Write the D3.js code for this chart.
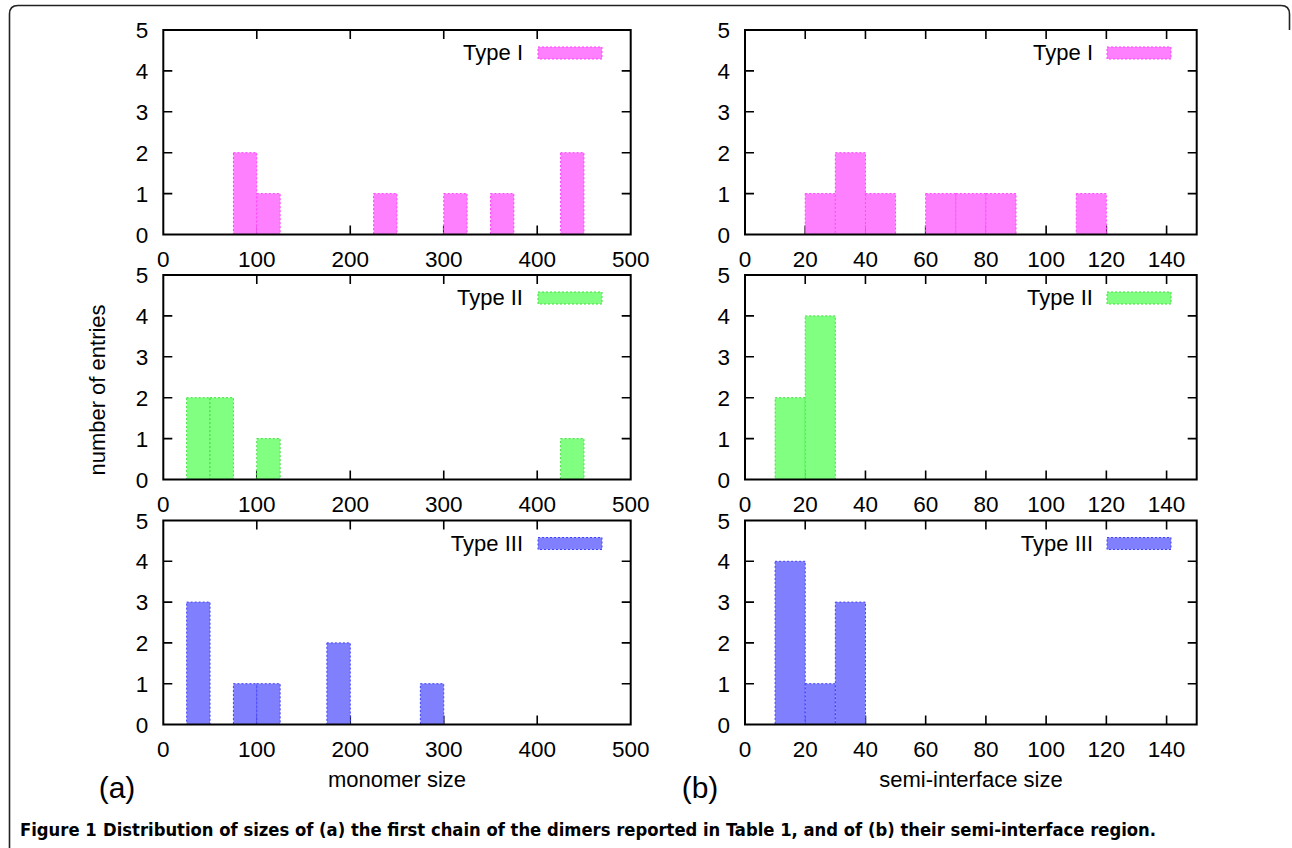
<!DOCTYPE html>
<html>
<head>
<meta charset="utf-8">
<script src="https://cdn.jsdelivr.net/npm/d3@7"></script>
<style>
  body { margin: 0; background: #fff; }
  svg text { font-family: "Liberation Sans", Arial, sans-serif; fill: #000; }
</style>
</head>
<body>
<script>
// histogram bins: left edge of each bin + count
const monomerBinWidth = 25;
const interfaceBinWidth = 10;

const typeIMonomerStart = [75, 100, 225, 300, 350, 425];
const typeIMonomerCount = [2, 1, 1, 1, 1, 2];
const typeIIMonomerStart = [25, 50, 100, 425];
const typeIIMonomerCount = [2, 2, 1, 1];
const typeIIIMonomerStart = [25, 75, 100, 175, 275];
const typeIIIMonomerCount = [3, 1, 1, 2, 1];

const typeIInterfaceStart = [20, 30, 40, 60, 70, 80, 110];
const typeIInterfaceCount = [1, 2, 1, 1, 1, 1, 1];
const typeIIInterfaceStart = [10, 20];
const typeIIInterfaceCount = [2, 4];
const typeIIIInterfaceStart = [10, 20, 30];
const typeIIIInterfaceCount = [4, 1, 3];

const typeNames = ["Type I", "Type II", "Type III"];
const monomerTicks = [0, 100, 200, 300, 400, 500];
const interfaceTicks = [0, 20, 40, 60, 80, 100, 120, 140];
const countTicks = [0, 1, 2, 3, 4, 5];

const fills = ["#ff80ff", "#80ff80", "#8080ff"];
const edges = ["#ff40ff", "#40e040", "#4040ff"];

const W = 1292, H = 848;

const svg = d3.select("body").append("svg")
  .attr("width", W)
  .attr("height", H);

// rounded figure frame (partly cut off in the scan)
svg.append("path")
  .attr("d", "M9.5,852 L9.5,14 Q9.5,5.5 18,5.5 L1281,5.5 Q1289.5,5.5 1289.5,14 L1289.5,30")
  .attr("fill", "none")
  .attr("stroke", "#222")
  .attr("stroke-width", 1.6);

const rows = [[30, 234.5], [275, 479.5], [520.5, 724.5]];
const cols = [
  { x0: 163.3, x1: 630.7, max: 500, ticks: monomerTicks, bw: monomerBinWidth,
    starts: [typeIMonomerStart, typeIIMonomerStart, typeIIIMonomerStart],
    counts: [typeIMonomerCount, typeIIMonomerCount, typeIIIMonomerCount],
    legendEnd: 523, swatch: 538 },
  { x0: 745, x1: 1196.7, max: 150, ticks: interfaceTicks, bw: interfaceBinWidth,
    starts: [typeIInterfaceStart, typeIIInterfaceStart, typeIIIInterfaceStart],
    counts: [typeIInterfaceCount, typeIIInterfaceCount, typeIIIInterfaceCount],
    legendEnd: 1093, swatch: 1107 }
];

const tickLen = 9;

cols.forEach(c => {
  rows.forEach((r, ri) => {
    const x = d3.scaleLinear().domain([0, c.max]).range([c.x0, c.x1]);
    const y = d3.scaleLinear().domain([0, 5]).range([r[1], r[0]]);
    const g = svg.append("g");

    // inward ticks on all four sides
    const inner = c.ticks.filter(t => t > 0 && t < c.max);
    g.selectAll(".xt").data(inner).join("path")
      .attr("d", d => `M${x(d)},${r[1]}v${-tickLen}M${x(d)},${r[0]}v${tickLen}`)
      .attr("stroke", "#000").attr("stroke-width", 1.6);
    g.selectAll(".yt").data(countTicks.filter(t => t > 0 && t < 5)).join("path")
      .attr("d", d => `M${c.x0},${y(d)}h${tickLen}M${c.x1},${y(d)}h${-tickLen}`)
      .attr("stroke", "#000").attr("stroke-width", 1.6);

    // bars
    const bins = c.starts[ri].map((s, i) => ({ s, n: c.counts[ri][i] }));
    g.selectAll("rect.bar").data(bins).join("rect")
      .attr("class", "bar")
      .attr("x", d => x(d.s))
      .attr("width", d => x(d.s + c.bw) - x(d.s))
      .attr("y", d => y(d.n))
      .attr("height", d => y(0) - y(d.n))
      .attr("fill", fills[ri])
      .attr("stroke", edges[ri])
      .attr("stroke-width", 1)
      .attr("stroke-dasharray", "2,2");

    // frame
    g.append("rect")
      .attr("x", c.x0).attr("y", r[0])
      .attr("width", c.x1 - c.x0).attr("height", r[1] - r[0])
      .attr("fill", "none").attr("stroke", "#000").attr("stroke-width", 2);

    // tick labels
    g.selectAll(".xl").data(c.ticks).join("text")
      .attr("x", d => x(d))
      .attr("y", r[1] + 32)
      .attr("text-anchor", "middle")
      .attr("font-size", 22.5)
      .text(d => d);
    g.selectAll(".yl").data(countTicks).join("text")
      .attr("x", c.x0 - 15)
      .attr("y", d => y(d) + 8)
      .attr("text-anchor", "end")
      .attr("font-size", 22.5)
      .text(d => d);

    // legend
    const ly = r[0] + 23;
    g.append("text")
      .attr("x", c.legendEnd)
      .attr("y", ly + 7)
      .attr("text-anchor", "end")
      .attr("font-size", 22)
      .text(typeNames[ri]);
    g.append("rect")
      .attr("x", c.swatch).attr("y", ly - 6)
      .attr("width", 64).attr("height", 12)
      .attr("fill", fills[ri])
      .attr("stroke", edges[ri])
      .attr("stroke-width", 1)
      .attr("stroke-dasharray", "2,2");
  });
});

// axis titles
svg.append("text")
  .attr("transform", "translate(105,390) rotate(-90)")
  .attr("text-anchor", "middle")
  .attr("font-size", 22)
  .text("number of entries");
svg.append("text")
  .attr("x", 397).attr("y", 787)
  .attr("text-anchor", "middle")
  .attr("font-size", 22)
  .text("monomer size");
svg.append("text")
  .attr("x", 971).attr("y", 787)
  .attr("text-anchor", "middle")
  .attr("font-size", 22)
  .text("semi-interface size");

// panel letters
svg.append("text").attr("x", 117).attr("y", 798)
  .attr("text-anchor", "middle").attr("font-size", 30).text("(a)");
svg.append("text").attr("x", 700).attr("y", 798)
  .attr("text-anchor", "middle").attr("font-size", 30).text("(b)");

// caption: two texts, font size fitted so the line ends near x=1156
const capFont = "'Liberation Sans Narrow', 'DejaVu Sans Condensed', 'Liberation Sans', sans-serif";
const capHead = svg.append("text")
  .attr("x", 20).attr("y", 836)
  .attr("font-size", 20).attr("font-weight", "bold")
  .style("font-family", capFont)
  .text("Figure 1");
const capBody = svg.append("text")
  .attr("y", 836)
  .attr("font-size", 20).attr("font-weight", 600)
  .style("font-family", capFont)
  .text("Distribution of sizes of (a) the first chain of the dimers reported in Table 1, and of (b) their semi-interface region.");
const gap = 0.35;
const w1 = capHead.node().getComputedTextLength();
const w2 = capBody.node().getComputedTextLength();
const fs = 20 * 1136 / (w1 + w2 + gap * 20);
capHead.attr("font-size", fs);
capBody.attr("font-size", fs).attr("x", 20 + (w1 / 20) * fs + gap * fs);
</script>
</body>
</html>
